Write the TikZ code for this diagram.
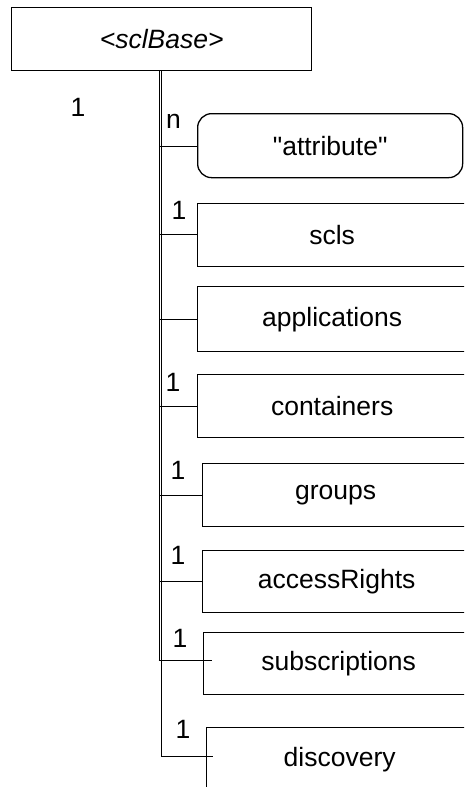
\documentclass[tikz,border=0pt]{standalone}
\usepackage{fontspec}
\setmainfont{Liberation Sans}[Ligatures=TeXOff]
\begin{document}
\begin{tikzpicture}[x=1pt,y=-1pt,
  every node/.style={font=\fontsize{26.5}{31}\selectfont, inner sep=0pt},
  box/.style={draw, line width=1.3pt, rectangle, anchor=north west},
  lbl/.style={anchor=center},
  conn/.style={line width=1pt},
  trunk/.style={line width=1.7pt}]
\useasboundingbox (0,0) rectangle (464,787);
\clip (0,0) rectangle (464,787);
% boxes
\node[box, minimum width=300pt, minimum height=63pt] (base) at (11,7) {\itshape <sclBase>};
\node[box, rounded corners=14pt, minimum width=265pt, minimum height=64pt] (attr) at (197,113) {"attribute"};
\node[box, minimum width=269pt, minimum height=63pt] (scls) at (197,203) {scls};
\node[box, minimum width=269pt, minimum height=65pt] (apps) at (197,286) {applications};
\node[box, minimum width=269pt, minimum height=63pt] (cont) at (197,374) {containers};
\node[box, minimum width=266pt, minimum height=63pt] (grps) at (202,463) {groups};
\node[box, minimum width=268pt, minimum height=62pt] (acc) at (202,550) {accessRights};
\node[box, minimum width=270pt, minimum height=62pt] (subs) at (203,632) {subscriptions};
\node[box, minimum width=266pt, minimum height=63pt] (disc) at (206,727) {discovery};
% trunk coordinates
\coordinate (tA0) at ([xshift=-2.3pt]base.south);
\coordinate (tB0) at (base.south);
\coordinate (jAttr) at (160,146);
\coordinate (jScls) at (160,234);
\coordinate (jApps) at (160,319);
\coordinate (jCont) at (160,406);
\coordinate (jGrps) at (160,495);
\coordinate (jAcc) at (160,581);
\coordinate (jSubs) at (158.7,660);
\coordinate (jDisc) at (161,756);
% trunks
\draw[trunk] (tA0) -- (tA0 |- jSubs);
\draw[line width=1pt] (tB0) -- (tB0 |- jDisc);
% connectors
\draw[conn] (jAttr) -- (jAttr -| attr.west);
\draw[conn] (jScls) -- (jScls -| scls.west);
\draw[conn] (jApps) -- (jApps -| apps.west);
\draw[conn] (jCont) -- (jCont -| cont.west);
\draw[conn] (jGrps) -- (jGrps -| grps.west);
\draw[conn] (jAcc) -- (jAcc -| acc.west);
\draw[conn] (jSubs) -- ([xshift=9pt]jSubs -| subs.west);
\draw[conn] (jDisc) -- ([xshift=7pt]jDisc -| disc.west);
% multiplicity labels
\node[lbl] (m0) at (78,107) {1};
\node[lbl] (mAttr) at (173.5,121) {n};
\node[lbl] (mScls) at (179,210) {1};
\node[lbl] (mCont) at (173,382) {1};
\node[lbl] (mGrps) at (178,470) {1};
\node[lbl] (mAcc) at (178,555) {1};
\node[lbl] (mSubs) at (180,638) {1};
\node[lbl] (mDisc) at (183,729) {1};
\end{tikzpicture}
\end{document}
